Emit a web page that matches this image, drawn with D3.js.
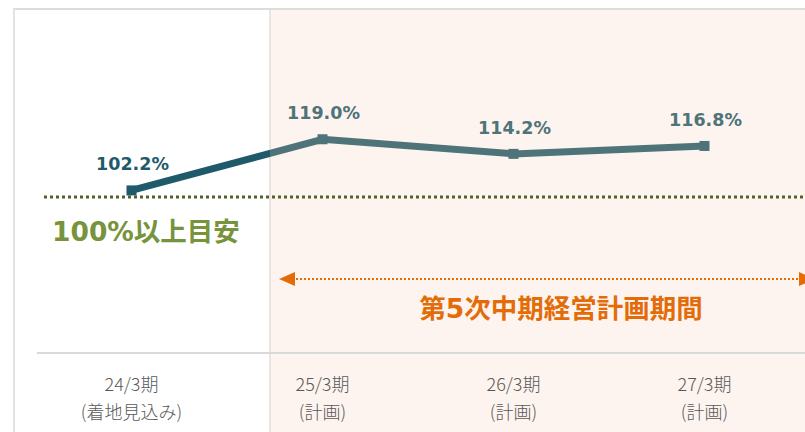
<!DOCTYPE html>
<html>
<head>
<meta charset="utf-8">
<script src="https://cdn.jsdelivr.net/npm/d3@7"></script>
<style>
  body { margin: 0; background: #fff; }
  svg { display: block; }
</style>
</head>
<body>
<div id="chart"></div>
<script>
// data
const categories = ["24/3期", "25/3期", "26/3期", "27/3期"];
const subLabels = ["(着地見込み)", "(計画)", "(計画)", "(計画)"];
const values = [102.2, 119.0, 114.2, 116.8];
const valueLabels = ["102.2%", "119.0%", "114.2%", "116.8%"];
const targetValue = 100;
const targetLabel = "100%以上目安";
const periodLabel = "第5次中期経営計画期間";

const width = 805, height = 432;
const planStart = 270;   // left edge of the plan period shading
const axisY = 353;

const svg = d3.select("#chart").append("svg")
  .attr("width", width)
  .attr("height", height);

// x: one band per period
const x = d3.scaleBand().domain(categories).range([36, 800]).padding(0);
const cx = d => x(d) + x.bandwidth() / 2;

// y: value scale
const y = d3.scaleLinear().domain([80, 125]).range([258, 121]);

// plan period background
svg.append("rect")
  .attr("x", planStart).attr("y", 9)
  .attr("width", width - planStart).attr("height", height - 9)
  .attr("fill", "#fdf4ef");
svg.append("line")
  .attr("x1", planStart).attr("x2", planStart)
  .attr("y1", 9).attr("y2", height)
  .attr("stroke", "#e2dedb").attr("stroke-width", 1.5);

// outer frame (top + left)
svg.append("line")
  .attr("x1", 13).attr("x2", width).attr("y1", 9).attr("y2", 9)
  .attr("stroke", "#dcdcdc").attr("stroke-width", 2);
svg.append("line")
  .attr("x1", 14).attr("x2", 14).attr("y1", 8).attr("y2", height)
  .attr("stroke", "#e2e2e2").attr("stroke-width", 2);

// 100% target line
svg.append("line")
  .attr("x1", 44).attr("x2", width)
  .attr("y1", y(targetValue)).attr("y2", y(targetValue))
  .attr("stroke", "#4f6228").attr("stroke-width", 3)
  .attr("stroke-dasharray", "3 3");
svg.append("text")
  .attr("x", 52).attr("y", y(targetValue) + 44)
  .attr("fill", "#77933c")
  .style("font-family", "'DejaVu Sans', 'Noto Sans CJK JP', sans-serif")
  .style("font-weight", "bold").style("font-size", "26.5px")
  .text(targetLabel);

// plan period arrow
const arrowY = 279;
svg.append("line")
  .attr("x1", 292).attr("x2", 800).attr("y1", arrowY).attr("y2", arrowY)
  .attr("stroke", "#e36c09").attr("stroke-width", 2)
  .attr("stroke-dasharray", "2 2");
svg.append("path")
  .attr("d", `M279,${arrowY} L295,${arrowY - 7} L295,${arrowY + 7} Z`)
  .attr("fill", "#e36c09");
svg.append("path")
  .attr("d", `M815,${arrowY} L799,${arrowY - 7} L799,${arrowY + 7} Z`)
  .attr("fill", "#e36c09");
svg.append("text")
  .attr("x", 561).attr("y", 318)
  .attr("text-anchor", "middle")
  .attr("fill", "#e36c09")
  .style("font-family", "'DejaVu Sans', 'Noto Sans CJK JP', sans-serif")
  .style("font-weight", "bold").style("font-size", "26.5px")
  .text(periodLabel);

// category axis
const axis = svg.append("g")
  .attr("transform", "translate(0," + axisY + ")")
  .call(d3.axisBottom(x).tickSize(0).tickPadding(0));
axis.select(".domain").remove();
svg.append("line")
  .attr("x1", 37).attr("x2", width).attr("y1", axisY).attr("y2", axisY)
  .attr("stroke", "#d9d9d9").attr("stroke-width", 2);
axis.selectAll(".tick text").each(function(d, i) {
  const t = d3.select(this).text(null)
    .attr("y", 0).attr("dy", null)
    .attr("fill", "#595959")
    .style("font-family", "'Noto Sans CJK JP', sans-serif")
    .style("font-weight", "300")
    .style("font-size", "18px");
  t.append("tspan").attr("x", 0).attr("y", 38).text(d);
  t.append("tspan").attr("x", 0).attr("y", 66).text(subLabels[i]);
});

// line: darker before the plan period, lighter inside it
const pts = categories.map((c, i) => [cx(c), y(values[i])]);
const line = d3.line();
const defs = svg.append("defs");
defs.append("clipPath").attr("id", "clipActual")
  .append("rect").attr("x", 0).attr("y", 0).attr("width", planStart).attr("height", height);
defs.append("clipPath").attr("id", "clipPlan")
  .append("rect").attr("x", planStart).attr("y", 0).attr("width", width - planStart).attr("height", height);

const darkCol = "#1f5a6b", planCol = "#4e7378";
svg.append("path").attr("d", line(pts))
  .attr("fill", "none").attr("stroke", darkCol).attr("stroke-width", 7)
  .attr("clip-path", "url(#clipActual)");
svg.append("path").attr("d", line(pts))
  .attr("fill", "none").attr("stroke", planCol).attr("stroke-width", 7)
  .attr("clip-path", "url(#clipPlan)");

svg.selectAll(".marker").data(pts).enter().append("rect")
  .attr("class", "marker")
  .attr("x", d => d[0] - 5).attr("y", d => d[1] - 5)
  .attr("width", 10).attr("height", 10)
  .attr("fill", d => d[0] < planStart ? darkCol : planCol);

svg.selectAll(".vlabel").data(pts).enter().append("text")
  .attr("class", "vlabel")
  .attr("x", d => d[0] + 1).attr("y", d => d[1] - 20)
  .attr("text-anchor", "middle")
  .attr("fill", d => d[0] < planStart ? darkCol : planCol)
  .style("font-family", "'DejaVu Sans', sans-serif")
  .style("font-weight", "bold").style("font-size", "17.5px")
  .text((d, i) => valueLabels[i]);
</script>
</body>
</html>
